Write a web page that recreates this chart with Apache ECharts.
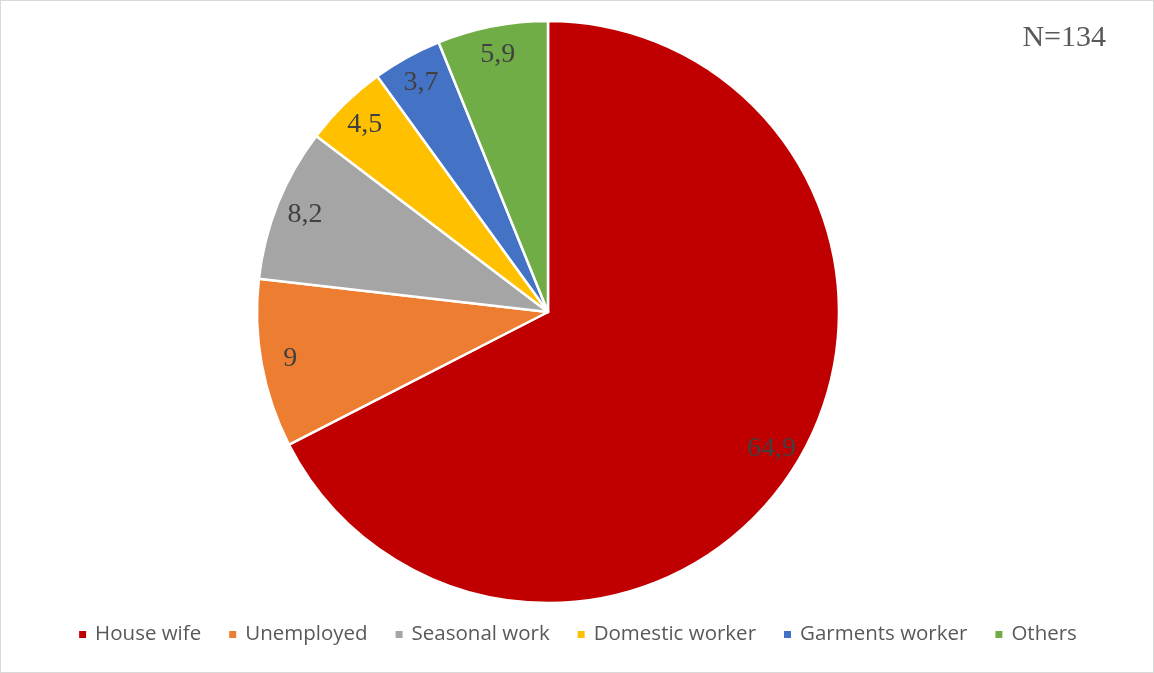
<!DOCTYPE html>
<html>
<head>
<meta charset="utf-8">
<script src="https://cdn.jsdelivr.net/npm/echarts@6/dist/echarts.min.js"></script>
<style>
  html, body { margin: 0; padding: 0; background: #fff; }
  #chart { width: 1154px; height: 673px; box-sizing: border-box; border: 1px solid #d9d9d9; }
</style>
</head>
<body>
<div id="chart"></div>
<script>
// Occupation shares (%) of respondents
const categories = ['House wife', 'Unemployed', 'Seasonal work', 'Domestic worker', 'Garments worker', 'Others'];
const shares = [64.9, 9, 8.2, 4.5, 3.7, 5.9];
const colors = ['#C00000', '#ED7D31', '#A5A5A5', '#FFC000', '#4472C4', '#70AD47'];
const sampleNote = 'N=134';

const pieData = categories.map((name, i) => ({ name, value: shares[i], itemStyle: { color: colors[i] } }));
const fmt = v => String(v).replace('.', ',');

const chart = echarts.init(document.getElementById('chart'), null, { renderer: 'canvas' });
chart.setOption({
  animation: false,
  backgroundColor: '#ffffff',
  legend: {
    top: 618,
    left: 'center',
    icon: 'rect',
    itemWidth: 9,
    itemHeight: 9,
    itemGap: 26,
    textStyle: { fontFamily: 'Open Sans', fontSize: 20.5, color: '#595959', padding: [0, 0, 0, 3] },
    data: categories
  },
  graphic: [{
    type: 'text',
    right: 47,
    top: 22,
    style: { text: sampleNote, font: '30px "Liberation Serif"', fill: '#595959' }
  }],
  series: [
    {
      type: 'pie',
      center: [547, 311],
      radius: 291,
      startAngle: 90,
      clockwise: true,
      itemStyle: { borderColor: '#ffffff', borderWidth: 2.5 },
      label: { show: false },
      labelLine: { show: false },
      emphasis: { disabled: true },
      data: pieData
    },
    {
      // transparent ring that only carries the value labels near the rim
      type: 'pie',
      center: [547, 311],
      radius: [226, 292],
      startAngle: 90,
      clockwise: true,
      silent: true,
      legendHoverLink: false,
      itemStyle: { color: 'rgba(0,0,0,0)', borderWidth: 0 },
      label: {
        show: true,
        position: 'inside',
        formatter: p => fmt(p.value),
        fontFamily: 'Liberation Serif',
        fontSize: 28,
        color: '#404040'
      },
      labelLine: { show: false },
      emphasis: { disabled: true },
      data: categories.map((name, i) => ({ name: name + ' ', value: shares[i] }))
    }
  ]
});
</script>
</body>
</html>
